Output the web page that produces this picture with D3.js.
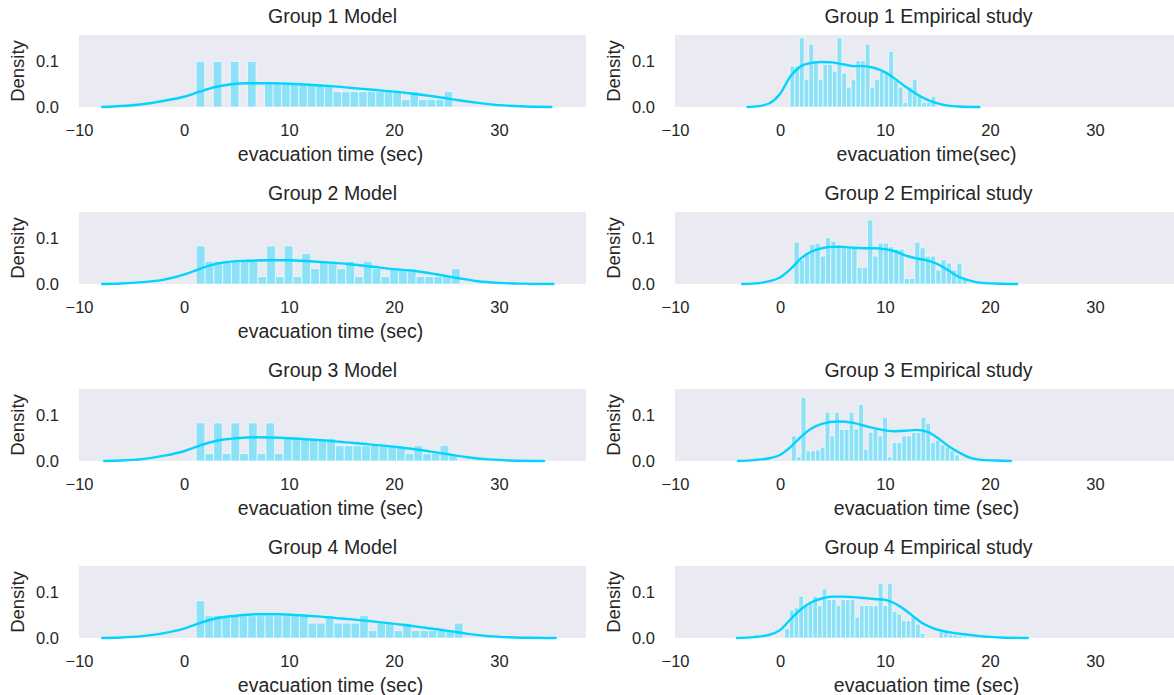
<!DOCTYPE html>
<html>
<head>
<meta charset="utf-8">
<script src="https://cdn.jsdelivr.net/npm/d3@7"></script>
<style>
  html, body { margin: 0; padding: 0; background: #ffffff; }
  svg { display: block; }
  text { font-family: "Liberation Sans", Arial, sans-serif; fill: #262626; }
</style>
</head>
<body>
<svg id="chart" width="1174" height="695"></svg>
<script>
// ---------------- DATA ----------------
const titles = ["Group 1 Model", "Group 1 Empirical study", "Group 2 Model", "Group 2 Empirical study",
                "Group 3 Model", "Group 3 Empirical study", "Group 4 Model", "Group 4 Empirical study"];
const xLabels = ["evacuation time (sec)", "evacuation time(sec)", "evacuation time (sec)", "",
                 "evacuation time (sec)", "evacuation time (sec)", "evacuation time (sec)", "evacuation time (sec)"];
const yLabel = "Density";
const xTicks = [-10, 0, 10, 20, 30];
const yTicks = [0.0, 0.1];
const xDomain = [-10, 38.3];
const yDomain = [0, 0.155];

// histogram bins: first edge, bin width, densities
const g1ModelBinStart = 1.16, g1ModelBinWidth = 0.815;
const g1ModelDensity = [0.098,0,0.098,0,0.098,0,0.098,0, 0.049,0.049,0.049,0.049,0.049,0.049,0.049,0.049,
  0.033,0.033,0.033,0.033,0.033,0.033,0.033,0.033, 0.016,0.033,0.016,0.016,0.016,0.033];
const g1EmpBinStart = 0.96, g1EmpBinWidth = 0.448;
const g1EmpDensity = [0.088,0.088,0.149,0.059,0.135,0.1,0.059,0.091,0.091,0.077,0.149,0.073,0.043,0.059,0.1,0.1,
  0.135,0.043,0.059,0.077,0.077,0.12,0.059,0.043,0.01,0.043,0.059,0.026,0.01,0.01,0.023];
const g2ModelBinStart = 1.17, g2ModelBinWidth = 0.838;
const g2ModelDensity = [0.082,0.049,0.049,0.049,0.049,0.049,0.049,0.016,0.082,0.016,0.082,0.016,0.066,0.033,0.049,0.049,
  0.033,0.049,0.016,0.049,0.033,0.016,0.033,0.033,0.033,0.016,0.016,0.016,0.016,0.033];
const g2EmpBinStart = 1.34, g2EmpBinWidth = 0.5;
const g2EmpDensity = [0.09,0.052,0.068,0.085,0.088,0.06,0.1,0.092,0.085,0.08,0.08,0.08,0.036,0.036,0.138,0.06,
  0.088,0.088,0.08,0.075,0.075,0.012,0.012,0.09,0.078,0.06,0.06,0.03,0.052,0.045,0.03,0.045,0.012];
const g3ModelBinStart = 1.16, g3ModelBinWidth = 0.83;
const g3ModelDensity = [0.082,0.016,0.082,0.016,0.082,0.016,0.082,0.016,0.082,0.016, 0.049,0.049,0.049,0.049,0.049,0.049,
  0.033,0.033,0.033,0.033,0.033,0.033,0.033,0.033, 0.016,0.033,0.016,0.016,0.033,0.016];
const g3EmpBinStart = 1.1, g3EmpBinWidth = 0.457;
const g3EmpDensity = [0.054,0.009,0.137,0.022,0.022,0.024,0.03,0.105,0.054,0.105,0.068,0.068,0.105,0.069,0.122,0.025,
  0.062,0.069,0.054,0.094,0.009,0.04,0.04,0.054,0.054,0.061,0.061,0.094,0.081,0.04,0.045,0.035,0.03,0.022,0.013];
const g4ModelBinStart = 1.16, g4ModelBinWidth = 0.82;
const g4ModelDensity = [0.08,0.048,0.048,0.048,0.048,0.048,0.048,0.048,0.048,0.048,0.048,0.048,0.048,0.032,0.032,0.048,
  0.032,0.032,0.032,0.048,0.016,0.032,0.032,0.016,0.032,0.016,0.016,0.016,0.016,0.016,0.032];
const g4EmpBinStart = 0.46, g4EmpBinWidth = 0.445;
const g4EmpDensity = [0.02,0.06,0.065,0.09,0.07,0.08,0.09,0.07,0.106,0.083,0.083,0.07,0.083,0.083,0.083,0.045,
  0.07,0.07,0.07,0.07,0.117,0.07,0.117,0.057,0.052,0.037,0.037,0.045,0.03,0.01,0,0,0,0.013,0.011,0.008,0.007,0.005,0.004];

// KDE curves [x, density]
const g1ModelKde = [[-7.8,0],[-6,0.002],[-4,0.006],[-2,0.013],[0,0.022],[1.5,0.033],[3,0.043],[4.5,0.049],[6,0.051],[8,0.051],
  [10,0.05],[12,0.048],[14,0.045],[16,0.041],[18,0.037],[20,0.033],[22,0.028],[24,0.022],[26,0.015],[28,0.009],[30,0.004],[32,0.0015],[35,0]];
const g1EmpKde = [[-3.1,0],[-2,0.002],[-1,0.008],[0,0.028],[1,0.066],[2,0.088],[3,0.095],[4,0.097],[5,0.096],[6,0.092],[7,0.088],
  [8,0.088],[9,0.084],[10,0.075],[11,0.06],[12,0.043],[13,0.028],[14,0.016],[15,0.008],[16,0.003],[17,0.001],[19,0]];
const g2ModelKde = [[-7.8,0],[-6,0.001],[-4,0.004],[-2,0.009],[0,0.02],[1.2,0.03],[2.5,0.04],[4,0.047],[6,0.05],[8,0.051],[10,0.051],
  [12,0.049],[14,0.046],[16,0.042],[18,0.037],[20,0.032],[22,0.028],[24,0.021],[26,0.013],[28,0.006],[30,0.0025],[32,0.0008],[35.2,0]];
const g2EmpKde = [[-3.6,0],[-2,0.002],[-1,0.006],[0,0.014],[1,0.032],[2,0.055],[3,0.07],[4,0.077],[5,0.08],[6,0.08],[7,0.078],
  [8,0.077],[9,0.077],[10,0.075],[11,0.07],[12,0.061],[13,0.055],[14,0.051],[15,0.043],[16,0.03],[17,0.016],[18,0.008],[19,0.003],[20.5,0.001],[22.6,0]];
const g3ModelKde = [[-7.6,0],[-6,0.001],[-4,0.004],[-2,0.011],[0,0.021],[1.5,0.033],[3,0.043],[5,0.049],[7,0.051],[9,0.05],[11,0.048],
  [13,0.045],[15,0.041],[17,0.037],[19,0.033],[21,0.028],[23,0.022],[25,0.015],[27,0.008],[29,0.0035],[31,0.0012],[34.3,0]];
const g3EmpKde = [[-4,0],[-2.5,0.002],[-1,0.006],[0,0.013],[1,0.03],[2,0.052],[3,0.07],[4,0.08],[5.5,0.085],[7,0.082],[8.5,0.073],
  [10,0.066],[11,0.064],[12,0.065],[13,0.067],[14,0.063],[15,0.05],[16,0.033],[17,0.019],[18,0.008],[19,0.003],[20.5,0.001],[22,0]];
const g4ModelKde = [[-7.8,0],[-6,0.001],[-4,0.004],[-2,0.01],[0,0.02],[1.5,0.032],[3,0.042],[5,0.048],[7,0.051],[9,0.051],[11,0.049],
  [13,0.046],[15,0.042],[17,0.038],[19,0.033],[21,0.028],[23,0.022],[25,0.016],[27,0.009],[29,0.004],[31,0.0015],[33,0.0004],[35.4,0]];
const g4EmpKde = [[-4.1,0],[-2.5,0.002],[-1,0.007],[0,0.017],[1,0.04],[2,0.062],[3,0.077],[4,0.085],[5,0.089],[6,0.089],[7,0.088],
  [8,0.086],[9,0.084],[10,0.082],[10.5,0.079],[11.5,0.067],[12.5,0.05],[13.5,0.033],[14.5,0.022],[15.5,0.015],[16.5,0.011],
  [17.5,0.008],[19,0.004],[21,0.0012],[23.6,0]];

const panels = [
  {start: g1ModelBinStart, width: g1ModelBinWidth, dens: g1ModelDensity, kde: g1ModelKde},
  {start: g1EmpBinStart, width: g1EmpBinWidth, dens: g1EmpDensity, kde: g1EmpKde},
  {start: g2ModelBinStart, width: g2ModelBinWidth, dens: g2ModelDensity, kde: g2ModelKde},
  {start: g2EmpBinStart, width: g2EmpBinWidth, dens: g2EmpDensity, kde: g2EmpKde},
  {start: g3ModelBinStart, width: g3ModelBinWidth, dens: g3ModelDensity, kde: g3ModelKde},
  {start: g3EmpBinStart, width: g3EmpBinWidth, dens: g3EmpDensity, kde: g3EmpKde},
  {start: g4ModelBinStart, width: g4ModelBinWidth, dens: g4ModelDensity, kde: g4ModelKde},
  {start: g4EmpBinStart, width: g4EmpBinWidth, dens: g4EmpDensity, kde: g4EmpKde}
];

// ---------------- LAYOUT ----------------
const colLeft = [79, 675];
const axW = 507, axH = 72;
const rowTop = [35, 212, 389, 566];
const mainColor = "#00d4ff";
const svg = d3.select("#chart");
svg.append("rect").attr("width", 1174).attr("height", 695).attr("fill", "#ffffff");

panels.forEach((p, i) => {
  const col = i % 2, row = Math.floor(i / 2);
  const left = colLeft[col], top = rowTop[row];
  const x = d3.scaleLinear().domain(xDomain).range([left, left + axW]);
  const y = d3.scaleLinear().domain(yDomain).range([top + axH, top]);
  const g = svg.append("g");

  g.append("rect").attr("x", left).attr("y", top).attr("width", axW).attr("height", axH).attr("fill", "#eaeaf2");

  const bins = p.dens.map((d, k) => ({x0: p.start + k * p.width, x1: p.start + (k + 1) * p.width, d}));
  g.selectAll("rect.bar").data(bins.filter(b => b.d > 0)).enter().append("rect")
    .attr("class", "bar")
    .attr("x", b => x(b.x0)).attr("width", b => x(b.x1) - x(b.x0))
    .attr("y", b => y(b.d)).attr("height", b => y(0) - y(b.d))
    .attr("fill", mainColor).attr("fill-opacity", 0.4)
    .attr("stroke", "#ffffff").attr("stroke-width", 1).attr("stroke-opacity", 0.6);

  const line = d3.line().x(d => x(d[0])).y(d => y(d[1])).curve(d3.curveMonotoneX);
  g.append("path").datum(p.kde).attr("d", line)
    .attr("fill", "none").attr("stroke", mainColor).attr("stroke-width", 2.4).attr("stroke-linecap", "round");

  // x axis tick labels
  const xAxis = d3.axisBottom(x).tickValues(xTicks).tickSize(0).tickPadding(0)
    .tickFormat(d => d < 0 ? "\u2212" + Math.abs(d) : String(d));
  const xa = g.append("g").attr("transform", `translate(0,${top + axH})`).call(xAxis);
  xa.select(".domain").remove();
  xa.selectAll("text").attr("dy", null).attr("y", 29).attr("font-size", 16.5)
    .attr("font-family", "Liberation Sans, Arial, sans-serif").attr("fill", "#262626");

  // y axis tick labels
  const yAxis = d3.axisLeft(y).tickValues(yTicks).tickSize(0).tickPadding(0).tickFormat(d3.format(".1f"));
  const ya = g.append("g").attr("transform", `translate(${left},0)`).call(yAxis);
  ya.select(".domain").remove();
  ya.selectAll("text").attr("x", -20).attr("dy", "0.36em").attr("font-size", 16.5)
    .attr("font-family", "Liberation Sans, Arial, sans-serif").attr("fill", "#262626");

  // title
  g.append("text").attr("x", left + axW / 2).attr("y", top - 12).attr("text-anchor", "middle")
    .attr("font-size", 19.5).text(titles[i]);
  // x label
  if (xLabels[i]) {
    g.append("text").attr("x", left + axW / 2 - 2).attr("y", top + axH + 54).attr("text-anchor", "middle")
      .attr("font-size", 19.5).text(xLabels[i]);
  }
  // y label
  g.append("text").attr("transform", `translate(${left - 55},${top + axH / 2}) rotate(-90)`)
    .attr("text-anchor", "middle").attr("font-size", 18.5).text(yLabel);
});
</script>
</body>
</html>
